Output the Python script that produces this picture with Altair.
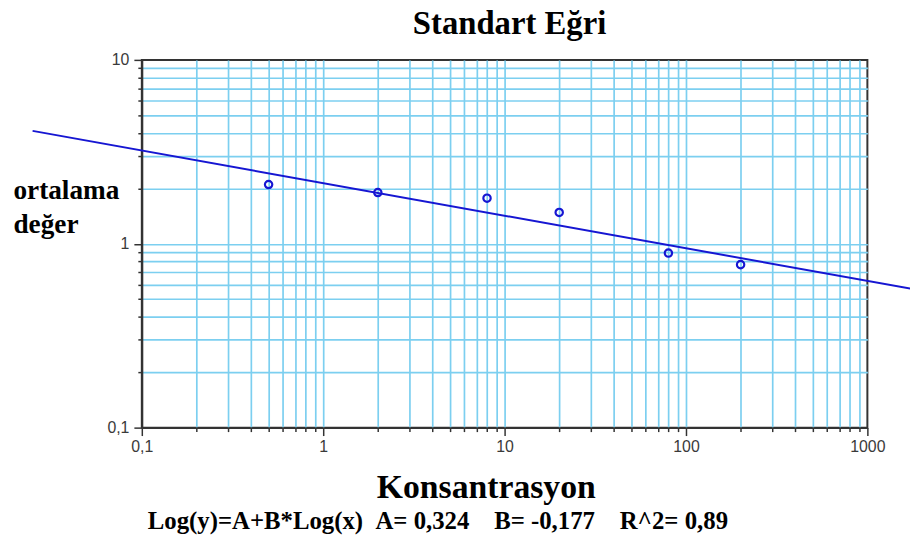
import altair as alt
import pandas as pd

# ---- data ----
pts_x = [0.5, 2, 8, 20, 80, 200]
pts_y = [2.10, 1.90, 1.77, 1.48, 0.89, 0.77]

fit_x = [0.025, 2000]
fit_y = [4.11, 0.556]

x_ticks = [0.1, 0.2, 0.3, 0.4, 0.5, 0.6, 0.7, 0.8, 0.9,
           1, 2, 3, 4, 5, 6, 7, 8, 9,
           10, 20, 30, 40, 50, 60, 70, 80, 90,
           100, 200, 300, 400, 500, 600, 700, 800, 900, 1000]
y_ticks = [0.1, 0.2, 0.3, 0.4, 0.5, 0.6, 0.7, 0.8, 0.9,
           1, 2, 3, 4, 5, 6, 7, 8, 9, 10]
x_major = [0.1, 1, 10, 100, 1000]
y_major = [0.1, 1, 10]

chart_title = "Standart Eğri"
x_title = "Konsantrasyon"
y_title = ["ortalama", "değer"]
NB = "\u00a0"
formula = ("Log(y)=A+B*Log(x)" + NB * 2 + "A= 0,324" + NB * 4 +
           "B= -0,177" + NB * 4 + "R^2= 0,89")

points = pd.DataFrame({"x": pts_x, "y": pts_y})
fit = pd.DataFrame({"x": fit_x, "y": fit_y})
note = pd.DataFrame({"t": [formula]})
head = pd.DataFrame({"t": [chart_title]})

BLUE = "#1616d2"
GRID = "#7ccff0"
DARK = "#333333"
SERIF = "Liberation Serif"
SANS = "Liberation Sans"


def major_test(vals):
    return "indexof([" + ",".join(str(v) for v in vals) + "], datum.value) >= 0"


def end_test(vals):
    return f"datum.value <= {vals[0]} || datum.value >= {vals[-1]}"


x_scale = alt.Scale(type="log", domain=[x_major[0], x_major[-1]], nice=False)
y_scale = alt.Scale(type="log", domain=[y_major[0], y_major[-1]], nice=False)

common_axis = dict(
    grid=True,
    gridColor=GRID,
    gridWidth=1.7,
    domain=True,
    domainColor=DARK,
    domainWidth=2,
    ticks=True,
    tickColor=DARK,
    tickWidth=1.5,
    labelOverlap=False,
    labelFlush=False,
    labelFont=SANS,
    labelFontSize=16,
    labelColor="#3a3a3a",
    titleFont=SERIF,
    titleFontWeight="bold",
    titleColor="black",
)

x_axis = alt.Axis(
    values=x_ticks,
    gridOpacity={"condition": {"test": end_test(x_major), "value": 0}, "value": 1},
    tickSize={"condition": {"test": "!(" + major_test(x_major) + ")", "value": 4}, "value": 8},
    labelExpr="(" + major_test(x_major) + ") ? replace(toString(datum.value), '.', ',') : ''",
    labelPadding=3,
    title=x_title,
    titleFontSize=34,
    titleX=347,
    titleY=70,
    titleAlign="center",
    titleBaseline="alphabetic",
    **common_axis,
)

y_axis = alt.Axis(
    values=y_ticks,
    gridOpacity={"condition": {"test": end_test(y_major), "value": 0}, "value": 1},
    tickSize={"condition": {"test": "!(" + major_test(y_major) + ")", "value": 4}, "value": 8},
    labelExpr="(" + major_test(y_major) + ") ? replace(toString(datum.value), '.', ',') : ''",
    labelPadding=5,
    title=y_title,
    titleFontSize=27.5,
    titleAngle=0,
    titleAlign="left",
    titleBaseline="alphabetic",
    titleX=-130,
    titleY=140,
    titleLineHeight=34,
    **common_axis,
)

line = alt.Chart(fit).mark_line(color=BLUE, strokeWidth=2, clip=False).encode(
    x=alt.X("x:Q", scale=x_scale, axis=x_axis),
    y=alt.Y("y:Q", scale=y_scale, axis=y_axis),
)

dots = alt.Chart(points).mark_point(
    shape="circle", filled=False, color=BLUE, size=55, strokeWidth=2.2, opacity=1
).encode(
    x=alt.X("x:Q", scale=x_scale),
    y=alt.Y("y:Q", scale=y_scale),
)

text = alt.Chart(note).mark_text(
    font=SERIF, fontSize=25, fontWeight="bold", color="black",
    align="left", baseline="alphabetic", clip=False
).encode(
    text="t:N",
    x=alt.value(6),
    y=alt.value(473),
)

title = alt.Chart(head).mark_text(
    font=SERIF, fontSize=33, fontWeight="bold", color="black",
    align="center", baseline="alphabetic", clip=False
).encode(
    text="t:N",
    x=alt.value(371),
    y=alt.value(-26),
)

chart = alt.layer(line, dots, text, title).properties(
    width=732,
    height=371,
    padding={"left": 135, "top": 50, "right": 43, "bottom": 109},
    autosize=alt.AutoSizeParams(type="none"),
).configure_view(stroke=DARK, strokeWidth=2)

chart.save("out.html", embed_options={"renderer": "svg", "actions": False})
